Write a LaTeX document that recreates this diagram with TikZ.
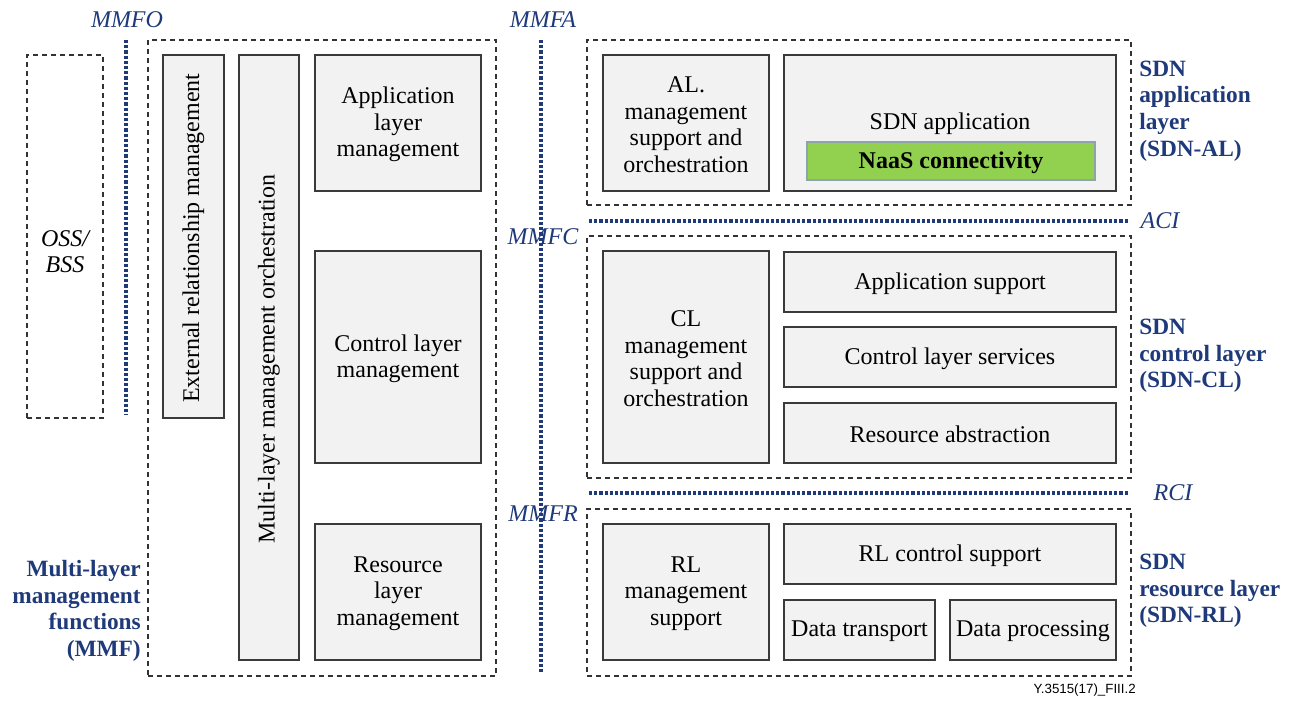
\documentclass[tikz,border=0pt]{standalone}
\usepackage{fontspec}
\setmainfont{Liberation Serif}
\newfontfamily\labsans{Liberation Sans}
\usetikzlibrary{fit}
\definecolor{navy}{HTML}{1F3A7A}
\definecolor{boxfill}{HTML}{F2F2F2}
\definecolor{boxline}{HTML}{3A3A3A}
\definecolor{naasgreen}{HTML}{92D050}
\definecolor{naasline}{HTML}{8FA3AB}
\begin{document}
\begin{tikzpicture}[x=0.75pt,y=-0.75pt,
 fbox/.style={draw=boxline, fill=boxfill, line width=1.1pt, inner sep=0pt},
 dbox/.style={draw=black!80, dash pattern=on 3.75pt off 3pt, line width=0.9pt, inner sep=0pt},
 dline/.style={draw=navy, line width=2.4pt, dash pattern=on 2.4pt off 1.5pt},
 txt/.style={inner sep=0pt, align=center, yshift=-1.2pt, font=\fontsize{18}{19.8}\selectfont},
 ilabel/.style={text=navy, inner sep=0pt, font=\fontsize{18}{19.5}\selectfont\itshape},
 blabel/.style={text=navy, inner sep=0pt, font=\fontsize{17.5}{20}\selectfont\bfseries}]

\path[use as bounding box, fill=white] (0,0) rectangle (1296,702);

% ---------- left part ----------
\node[dbox, fit={(27,55) (103,418)}] (oss) {};
\node[txt, font=\fontsize{18}{19.5}\selectfont\itshape] (osst) at (65,250) {OSS/\\BSS};

\coordinate (mo1) at (126,40);
\coordinate (mo2) at (126,415);
\draw[dline] (mo1) -- (mo2);
\node[ilabel] (mmfo) at (127,20) {MMFO};

\node[dbox, fit={(148,40) (496,676)}] (mmf) {};
\node[fbox, fit={(163,55) (224,418)}] (erm) {};
\node[txt, rotate=90] (ermt) at (erm.center) {External relationship management};
\node[fbox, fit={(239,55) (299,660)}] (mlmo) {};
\node[txt, rotate=90] (mlmot) at (mlmo.center) {Multi-layer management orchestration};
\node[fbox, fit={(315,55) (481,191)}] (alm) {};
\node[txt] (almt) at (alm.center) {Application\\layer\\management};
\node[fbox, fit={(315,251) (481,463)}] (clm) {};
\node[txt] (clmt) at (clm.center) {Control layer\\management};
\node[fbox, fit={(315,524) (481,660)}] (rlm) {};
\node[txt] (rlmt) at (rlm.center) {Resource\\layer\\management};

\node[blabel, align=right, anchor=east] (mmflab) at (141,611) {Multi-layer\\management\\functions\\(MMF)};

% ---------- vertical MMF interfaces ----------
\coordinate (ma1) at (541,40);
\coordinate (ma2) at (541,672);
\draw[dline] (ma1) -- (ma2);
\node[ilabel] (mmfa) at (543,20) {MMFA};
\node[ilabel] (mmfc) at (543,237) {MMFC};
\node[ilabel] (mmfr) at (543,514) {MMFR};

% ---------- SDN application layer ----------
\node[dbox, fit={(587,40) (1131,205)}] (al) {};
\node[fbox, fit={(603,55) (769,191)}] (alms) {};
\node[txt] (almst) at (alms.center) {AL.\\management\\support and\\orchestration};
\node[fbox, fit={(784,55) (1116,191)}] (sdnapp) {};
\node[txt] (sdnappt) at (950,122) {SDN application};
\node[draw=naasline, fill=naasgreen, line width=2.2pt, inner sep=0pt, fit={(807,142) (1095,180)}] (naas) {};
\node[txt, font=\fontsize{18}{19.5}\selectfont\bfseries] (naast) at (naas.center) {NaaS connectivity};
\node[blabel, align=left, anchor=west] (allab) at (1139,111) {SDN\\application\\layer\\(SDN-AL)};

% ACI
\coordinate (aci1) at (589,221);
\coordinate (aci2) at (1128,221);
\draw[dline] (aci1) -- (aci2);
\node[ilabel] (aci) at (1160,221) {ACI};

% ---------- SDN control layer ----------
\node[dbox, fit={(587,236) (1131,478)}] (cl) {};
\node[fbox, fit={(603,251) (769,463)}] (clms) {};
\node[txt] (clmst) at (clms.center) {CL\\management\\support and\\orchestration};
\node[fbox, fit={(784,252) (1116,312)}] (aps) {};
\node[txt] (apst) at (aps.center) {Application support};
\node[fbox, fit={(784,327) (1116,387)}] (cls) {};
\node[txt] (clst) at (cls.center) {Control layer services};
\node[fbox, fit={(784,403) (1116,463)}] (ra) {};
\node[txt] (rat) at (ra.center) {Resource abstraction};
\node[blabel, align=left, anchor=west] (cllab) at (1139,356) {SDN\\control layer\\(SDN-CL)};

% RCI
\coordinate (rci1) at (589,493);
\coordinate (rci2) at (1128,493);
\draw[dline] (rci1) -- (rci2);
\node[ilabel] (rci) at (1173,493) {RCI};

% ---------- SDN resource layer ----------
\node[dbox, fit={(587,509) (1131,676)}] (rl) {};
\node[fbox, fit={(603,524) (769,660)}] (rlms) {};
\node[txt] (rlmst) at (rlms.center) {RL\\management\\support};
\node[fbox, fit={(784,524) (1116,584)}] (rlcs) {};
\node[txt] (rlcst) at (rlcs.center) {RL control support};
\node[fbox, fit={(784,600) (935,660)}] (dt) {};
\node[txt] (dtt) at (dt.center) {Data transport};
\node[fbox, fit={(950,600) (1116,660)}] (dp) {};
\node[txt] (dpt) at (dp.center) {Data processing};
\node[blabel, align=left, anchor=west] (rllab) at (1139,591) {SDN\\resource layer\\(SDN-RL)};

\node[inner sep=0pt, anchor=east, font=\labsans\fontsize{10}{12}\selectfont] (fig) at (1136,690) {Y.3515(17)\_FIII.2};
\end{tikzpicture}
\end{document}
